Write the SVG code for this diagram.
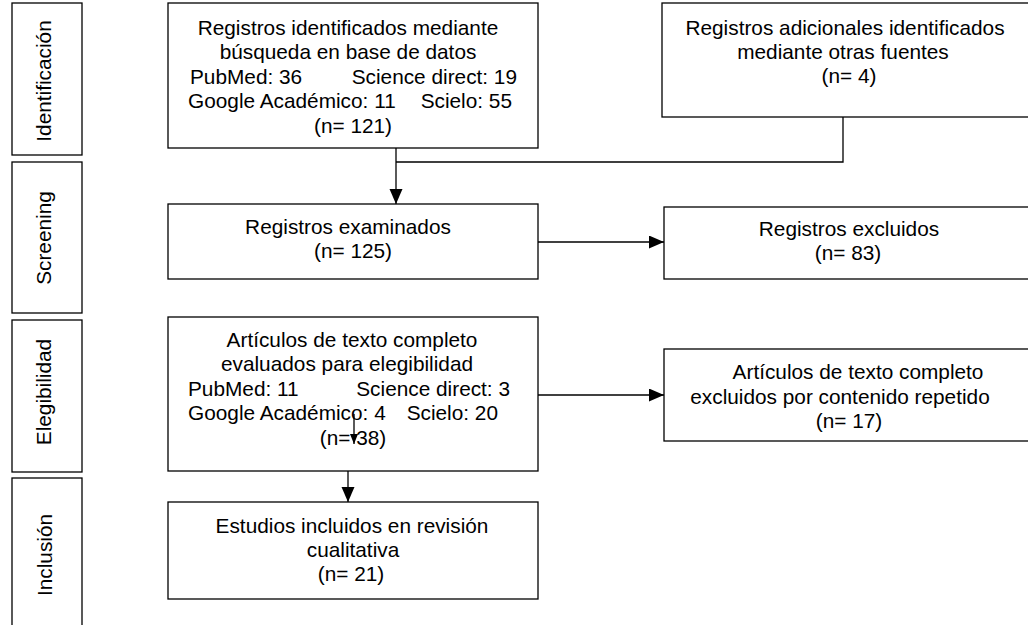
<svg xmlns="http://www.w3.org/2000/svg" width="1028" height="625" viewBox="0 0 1028 625">
<style>
.box{fill:#fff;stroke:#000;stroke-width:1.3}
.t{font-family:"Liberation Sans",Arial,sans-serif;font-size:20.8px;fill:#000}
.c{text-anchor:middle}
.e{text-anchor:end}
.ln{fill:none;stroke:#000;stroke-width:1.3}
</style>
<defs>
<marker id="ah" markerUnits="userSpaceOnUse" markerWidth="16" markerHeight="14" refX="15" refY="6.5" orient="auto">
<path d="M0,0 L15,6.5 L0,13 z" fill="#000"/>
</marker>
<marker id="ahs" markerUnits="userSpaceOnUse" markerWidth="11" markerHeight="9" refX="10" refY="4" orient="auto">
<path d="M0,0 L10,4 L0,8 z" fill="#000"/>
</marker>
</defs>
<rect width="1028" height="625" fill="#fff"/>

<g id="phase-identificacion">
<rect class="box" x="12" y="3" width="70" height="152"/>
<text class="t c" transform="translate(51,81) rotate(-90)">Identificación</text>
</g>
<g id="phase-screening">
<rect class="box" x="12" y="162" width="70" height="151"/>
<text class="t c" transform="translate(51,238) rotate(-90)">Screening</text>
</g>
<g id="phase-elegibilidad">
<rect class="box" x="12" y="320" width="70" height="152"/>
<text class="t c" transform="translate(51,392) rotate(-90)">Elegibilidad</text>
</g>
<g id="phase-inclusion">
<rect class="box" x="12" y="478" width="70" height="160"/>
<text class="t c" transform="translate(52,555) rotate(-90)">Inclusión</text>
</g>

<g id="node-busqueda">
<rect class="box" x="168" y="3" width="370" height="145"/>
<text class="t c" x="348" y="35">Registros identificados mediante</text>
<text class="t c" x="348" y="59">búsqueda en base de datos</text>
<text class="t" x="190" y="84">PubMed: 36</text>
<text class="t e" x="517" y="84">Science direct: 19</text>
<text class="t" x="188" y="108">Google Académico: 11</text>
<text class="t e" x="512" y="108">Scielo: 55</text>
<text class="t c" x="353" y="133">(n= 121)</text>
</g>

<g id="node-adicionales">
<rect class="box" x="662" y="3" width="370" height="114"/>
<text class="t c" x="845" y="35">Registros adicionales identificados</text>
<text class="t c" x="843" y="59">mediante otras fuentes</text>
<text class="t c" x="849" y="83">(n= 4)</text>
</g>

<g id="node-examinados">
<rect class="box" x="168" y="204" width="370" height="75"/>
<text class="t c" x="348" y="234">Registros examinados</text>
<text class="t c" x="353" y="258">(n= 125)</text>
</g>

<g id="node-excluidos">
<rect class="box" x="664" y="207" width="368" height="72"/>
<text class="t c" x="849" y="236">Registros excluidos</text>
<text class="t c" x="848" y="260">(n= 83)</text>
</g>

<g id="node-elegibilidad">
<rect class="box" x="168" y="317" width="370" height="154"/>
<text class="t c" x="352" y="347">Artículos de texto completo</text>
<text class="t c" x="347" y="371">evaluados para elegibilidad</text>
<text class="t" x="188" y="396">PubMed: 11</text>
<text class="t e" x="510" y="396">Science direct: 3</text>
<text class="t" x="188" y="420">Google Académico: 4</text>
<text class="t e" x="498" y="420">Scielo: 20</text>
<text class="t c" x="353" y="445">(n= 38)</text>
</g>

<g id="node-excluidos-texto">
<rect class="box" x="664" y="349" width="368" height="92"/>
<text class="t c" x="858" y="379">Artículos de texto completo</text>
<text class="t c" x="840" y="404">excluidos por contenido repetido</text>
<text class="t c" x="849" y="428">(n= 17)</text>
</g>

<g id="node-incluidos">
<rect class="box" x="168" y="502" width="370" height="97"/>
<text class="t c" x="352" y="533">Estudios incluidos en revisión</text>
<text class="t c" x="353" y="557">cualitativa</text>
<text class="t c" x="351" y="581">(n= 21)</text>
</g>

<g id="connectors">
<polyline class="ln" points="843,117 843,162 396,162"/>
<line class="ln" x1="396" y1="148" x2="396" y2="204" marker-end="url(#ah)"/>
<line class="ln" x1="538" y1="242" x2="664" y2="242" marker-end="url(#ah)"/>
<line class="ln" x1="538" y1="395" x2="664" y2="395" marker-end="url(#ah)"/>
<line class="ln" x1="354" y1="414" x2="354" y2="444" marker-end="url(#ahs)"/>
<line class="ln" x1="348" y1="471" x2="348" y2="502" marker-end="url(#ah)"/>
</g>
</svg>
